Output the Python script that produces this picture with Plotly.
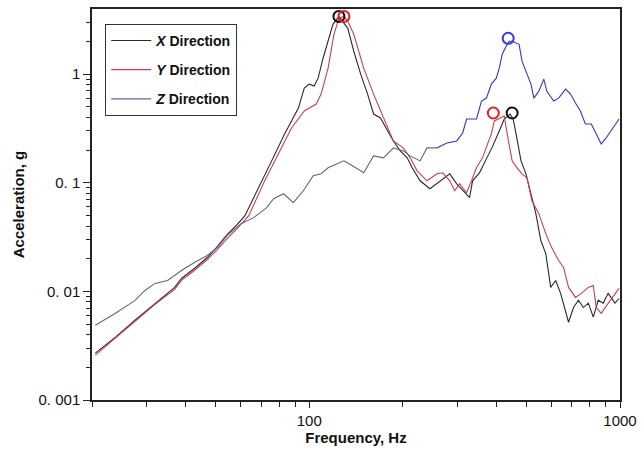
import plotly.graph_objects as go

# ---------------- data ----------------
x_freq = [20.5, 23.8, 27.5, 31.9, 36.9, 38.8, 42.7, 47.0, 50.6, 54.4, 58.6, 62.1, 68.8, 75.7, 83.3,
          92.3, 96.4, 100, 103.7, 106.8, 110.8, 115.0, 119.2, 124.6, 133.1, 139.1, 146.4, 154.1,
          161.1, 169.5, 178.5, 186.5, 196.3, 206.7, 214.4, 227.4, 244.6, 263.3, 283.3, 298.3, 311.7,
          328.1, 335.4, 353.0, 371.6, 388.3, 408.8, 424.1, 443.1, 453.0, 463.0, 480.3, 498.2, 516.8,
          536.1, 556.1, 577.0, 598.4, 620.9, 644.1, 668.1, 683.0, 708.5, 735.0, 762.4, 790.9, 820.4,
          851.1, 882.9, 915.8, 964.0, 992.7]
x_acc = [0.00270, 0.00379, 0.00542, 0.00776, 0.01088, 0.01316, 0.01626, 0.02051, 0.02587, 0.03334,
         0.04119, 0.04981, 0.08997, 0.1591, 0.2816, 0.4876, 0.7438, 0.8094, 0.7762, 0.9189, 1.402,
         2.008, 2.874, 3.40, 2.642, 1.626, 1.000, 0.6554, 0.4297, 0.3948, 0.3000, 0.2428, 0.1966,
         0.1696, 0.1373, 0.1043, 0.0881, 0.1043, 0.1209, 0.0979, 0.0845, 0.0729, 0.1043, 0.1235,
         0.1660, 0.2140, 0.3000, 0.3865, 0.4297, 0.3865, 0.2816, 0.1591, 0.1209, 0.0793, 0.0520,
         0.0294, 0.0223, 0.0109, 0.0126, 0.0096, 0.0067, 0.0052, 0.0071, 0.0083, 0.0071, 0.0078,
         0.0058, 0.0083, 0.0078, 0.0096, 0.0078, 0.0086]

y_freq = [20.5, 23.8, 27.5, 31.9, 36.9, 38.8, 42.7, 47.0, 50.6, 54.4, 58.6, 63.9, 71.9, 79.7, 87.7,
          96.4, 105.3, 109.2, 115.0, 120.1, 124.6, 129.3, 133.1, 139.1, 149.7, 161.1, 169.5, 178.5,
          186.5, 200.7, 211.3, 222.4, 239.3, 257.6, 269.1, 283.3, 293.9, 304.9, 320.9, 332.9, 345.3,
          360.9, 374.4, 385.5, 394.1, 414.8, 424.1, 433.5, 449.7, 466.4, 483.8, 501.9, 520.6, 548.0,
          577.0, 602.9, 634.7, 658.4, 683.0, 719.0, 751.3, 790.9, 820.4, 838.7, 870.0, 915.8, 964.0,
          992.7]
y_acc = [0.00259, 0.00371, 0.00530, 0.00760, 0.01043, 0.01262, 0.01558, 0.01966, 0.02428, 0.03064,
         0.03785, 0.04981, 0.1043, 0.1845, 0.3196, 0.4576, 0.5304, 0.6554, 1.135, 2.328, 3.264, 3.405,
         3.064, 2.328, 1.135, 0.6554, 0.4576, 0.3196, 0.2428, 0.2095, 0.1696, 0.1289, 0.1043, 0.1209,
         0.1235, 0.1043, 0.0845, 0.0979, 0.0810, 0.1043, 0.1373, 0.1696, 0.2232, 0.2816, 0.3705,
         0.3948, 0.4118, 0.2816, 0.1591, 0.1373, 0.1209, 0.1111, 0.0684, 0.0520, 0.0340, 0.0253,
         0.01925, 0.0166, 0.01088, 0.00881, 0.00959, 0.01088, 0.01135, 0.00713, 0.00628, 0.00776,
         0.00959, 0.01065]

z_freq = [20.5, 23.8, 27.5, 29.6, 31.9, 35.0, 38.8, 42.7, 47.0, 50.6, 54.4, 60.3, 66.3, 73.0, 76.8,
          82.7, 88.9, 95.7, 103.0, 109.2, 115.0, 123.7, 129.3, 136.1, 149.7, 161.1, 173.4, 186.6,
          200.7, 211.3, 227.4, 239.3, 257.6, 277.2, 298.3, 311.7, 321.0, 345.4, 358.3, 371.7, 385.5,
          399.9, 408.8, 417.9, 430.3, 439.9, 449.7, 473.4, 483.9, 498.4, 516.9, 528.4, 548.2, 568.7,
          581.3, 611.9, 634.7, 668.1, 693.1, 719.0, 745.8, 773.7, 808.5, 838.7, 870.0, 902.5, 936.2,
          971.1, 992.7]
z_acc = [0.00488, 0.00628, 0.00827, 0.0102, 0.01184, 0.01262, 0.01559, 0.01845, 0.02140, 0.02533,
         0.03264, 0.04206, 0.04774, 0.05897, 0.07132, 0.07926, 0.06555, 0.08446, 0.1159, 0.1210,
         0.1373, 0.1494, 0.1591, 0.1463, 0.1235, 0.1769, 0.1696, 0.2095, 0.1966, 0.1769, 0.1591,
         0.2095, 0.2095, 0.2328, 0.2428, 0.2875, 0.3865, 0.3865, 0.5655, 0.6024, 0.8094, 0.9190,
         1.135, 1.526, 1.807, 2.008, 2.008, 1.884, 1.316, 1.065, 0.809, 0.602, 0.698, 0.900, 0.698,
         0.5655, 0.602, 0.7287, 0.6553, 0.5420, 0.4575, 0.3477, 0.3477, 0.2815, 0.2279, 0.2587,
         0.2999, 0.3477, 0.3865]
z_split_freq = 257.6  # Z trace looks grey below here and blue above

peak_freq = [124.6, 129.3, 436.7, 391.2, 449.7]
peak_acc = [3.40, 3.40, 2.14, 0.439, 0.439]
peak_color = ["#111111", "#e0202a", "#3a3ae0", "#e0202a", "#111111"]

series_names = ["<b><i>X</i> Direction</b>", "<b><i>Y</i> Direction</b>", "<b><i>Z</i> Direction</b>"]
series_colors = ["#2a2a2a", "#c8404f", "#64648e"]
z_high_color = "#3636c4"

y_tickvals = [0.001, 0.01, 0.1, 1]
y_ticktext = ["0. 001", "0. 01", "0. 1", "1"]
x_tickvals = [100, 1000]
x_ticktext = ["100", "1000"]
x_minor = [20, 30, 40, 50, 60, 70, 80, 90, 200, 300, 400, 500, 600, 700, 800, 900]
y_minor = [m * d for d in (0.001, 0.01, 0.1, 1) for m in range(2, 10) if m * d < 4]

FONT = "Liberation Sans, Arial, Helvetica, sans-serif"

fig = go.Figure()
for i, (f, a, name, col) in enumerate(zip([x_freq, y_freq, z_freq], [x_acc, y_acc, z_acc],
                                          series_names, series_colors)):
    if i == 2:
        k = z_freq.index(z_split_freq)
        fig.add_trace(go.Scatter(x=f[:k + 1], y=a[:k + 1], mode="lines", name=name,
                                 legendgroup=f"g{i}", line=dict(color=col, width=1.1)))
        fig.add_trace(go.Scatter(x=f[k:], y=a[k:], mode="lines", name=name, showlegend=False,
                                 legendgroup=f"g{i}", line=dict(color=z_high_color, width=1.1)))
    else:
        fig.add_trace(go.Scatter(x=f, y=a, mode="lines", name=name, legendgroup=f"g{i}",
                                 line=dict(color=col, width=1.1)))

fig.add_trace(go.Scatter(x=peak_freq, y=peak_acc, mode="markers", showlegend=False,
                         marker=dict(symbol="circle-open", size=11,
                                     color=peak_color, line=dict(width=2, color=peak_color))))

fig.update_layout(
    width=644, height=453,
    margin=dict(l=92, r=22, t=7, b=53),
    paper_bgcolor="white", plot_bgcolor="white",
    font=dict(family=FONT, size=15, color="#111111"),
    legend=dict(x=0.025, y=0.962, xanchor="left", yanchor="top",
                bordercolor="#333333", borderwidth=1, bgcolor="white",
                font=dict(size=14, family=FONT), traceorder="grouped", tracegroupgap=8,
                itemwidth=40),
    showlegend=True,
)
fig.update_xaxes(type="log", range=[1.301, 3.0], showgrid=False, zeroline=False,
                 showline=True, linecolor="#222222", linewidth=1.5, mirror=True,
                 ticks="outside", ticklen=6, tickwidth=1.2, tickcolor="#222222",
                 tickmode="array", tickvals=x_tickvals, ticktext=x_ticktext,
                 minor=dict(tickmode="array", tickvals=x_minor, ticks="outside", ticklen=5,
                            tickwidth=1.2, tickcolor="#222222", showgrid=False),
                 title=dict(text="<b>Frequency, Hz</b>", font=dict(size=15), standoff=2))
fig.update_yaxes(type="log", range=[-3.0, 0.60], showgrid=False, zeroline=False,
                 showline=True, linecolor="#222222", linewidth=1.5, mirror=True,
                 ticks="outside", ticklen=7, tickwidth=1.2, tickcolor="#222222",
                 tickmode="array", tickvals=y_tickvals, ticktext=y_ticktext,
                 minor=dict(tickmode="array", tickvals=y_minor, ticks="outside", ticklen=4,
                            tickwidth=1, tickcolor="#222222", showgrid=False),
                 title=dict(text="<b>Acceleration, g</b>", font=dict(size=15), standoff=10))

fig.write_html("out.html", config={"displayModeBar": False},
               post_script="document.body.style.margin='0';")
